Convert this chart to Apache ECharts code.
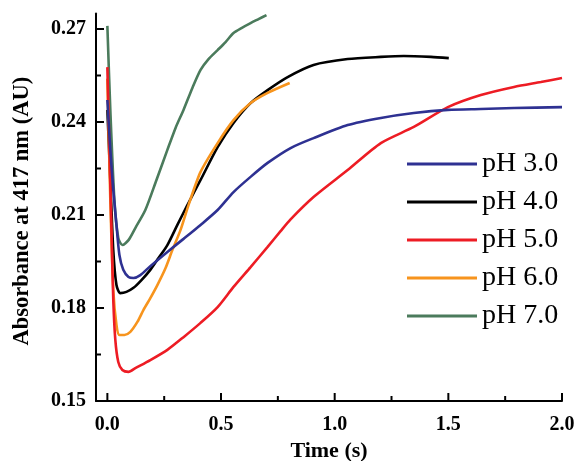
<!DOCTYPE html>
<html>
<head>
<meta charset="utf-8">
<script src="https://cdn.jsdelivr.net/npm/echarts@6/dist/echarts.min.js"></script>
<style>
html,body{margin:0;padding:0;background:#fff;}
#chart{width:576px;height:461px;}
</style>
</head>
<body>
<div id="chart"></div>
<script>
// Legend / series names
const seriesNames = ['pH 3.0', 'pH 4.0', 'pH 5.0', 'pH 6.0', 'pH 7.0'];
const seriesColors = ['#2e3192', '#000000', '#ed1c24', '#f7941d', '#4b7b5c'];

// Axis ranges and tick labels
const xMin = -0.05, xMax = 2.0;
const yMin = 0.15, yMax = 0.275;
const xTicks = [0, 0.5, 1.0, 1.5, 2.0];
const xMinorTicks = [0.25, 0.75, 1.25, 1.75];
const yTicks = [0.15, 0.18, 0.21, 0.24, 0.27];
const yMinorTicks = [0.165, 0.195, 0.225, 0.255];

// pH 3.0 (blue)
const tPH3 = [0, 0.013, 0.026, 0.040, 0.053, 0.070, 0.093, 0.115, 0.145, 0.189, 0.264, 0.335, 0.410, 0.485, 0.555, 0.630, 0.705, 0.806, 0.907, 1.057, 1.203, 1.348, 1.498, 1.643, 1.789, 2.0];
const aPH3 = [0.2471, 0.2310, 0.2181, 0.2068, 0.1971, 0.1923, 0.1900, 0.1897, 0.1906, 0.1935, 0.1981, 0.2023, 0.2068, 0.2116, 0.2174, 0.2223, 0.2268, 0.2316, 0.2348, 0.2390, 0.2413, 0.2429, 0.2439, 0.2442, 0.2445, 0.2448];

// pH 4.0 (black)
const tPH4 = [0, 0.013, 0.026, 0.040, 0.057, 0.084, 0.115, 0.150, 0.189, 0.225, 0.264, 0.308, 0.352, 0.410, 0.485, 0.555, 0.630, 0.705, 0.793, 0.907, 1.057, 1.203, 1.304, 1.423, 1.502];
const aPH4 = [0.2439, 0.2213, 0.1987, 0.1874, 0.1848, 0.1852, 0.1865, 0.1890, 0.1923, 0.1961, 0.2003, 0.2068, 0.2132, 0.2213, 0.2319, 0.2397, 0.2461, 0.2503, 0.2545, 0.2584, 0.2603, 0.2610, 0.2613, 0.2610, 0.2606];

// pH 5.0 (red)
const tPH5 = [0, 0.009, 0.018, 0.026, 0.035, 0.048, 0.066, 0.093, 0.123, 0.189, 0.264, 0.335, 0.410, 0.485, 0.555, 0.630, 0.705, 0.762, 0.806, 0.907, 1.057, 1.203, 1.348, 1.498, 1.643, 1.789, 1.907, 2.0];
const aPH5 = [0.2577, 0.2310, 0.2052, 0.1826, 0.1697, 0.1626, 0.1600, 0.1594, 0.1606, 0.1632, 0.1665, 0.1706, 0.1752, 0.1803, 0.1868, 0.1932, 0.1997, 0.2048, 0.2086, 0.2158, 0.2245, 0.2332, 0.2384, 0.2448, 0.2487, 0.2513, 0.2529, 0.2542];

// pH 6.0 (orange)
const tPH6 = [0, 0.013, 0.026, 0.040, 0.053, 0.075, 0.101, 0.132, 0.159, 0.189, 0.220, 0.256, 0.286, 0.322, 0.357, 0.410, 0.485, 0.555, 0.630, 0.705, 0.802];
const aPH6 = [0.2540, 0.2148, 0.1858, 0.1745, 0.1713, 0.1713, 0.1723, 0.1755, 0.1794, 0.1832, 0.1874, 0.1929, 0.1987, 0.2052, 0.2132, 0.2239, 0.2332, 0.2406, 0.2461, 0.2494, 0.2526];

// pH 7.0 (green)
const tPH7 = [0, 0.013, 0.031, 0.048, 0.066, 0.093, 0.123, 0.167, 0.216, 0.264, 0.300, 0.335, 0.374, 0.410, 0.445, 0.485, 0.520, 0.555, 0.590, 0.630, 0.665, 0.700];
const aPH7 = [0.2710, 0.2439, 0.2148, 0.2026, 0.2003, 0.2019, 0.2058, 0.2116, 0.2213, 0.2310, 0.2381, 0.2439, 0.2510, 0.2568, 0.2603, 0.2632, 0.2658, 0.2687, 0.2703, 0.2719, 0.2732, 0.2745];

const times = [tPH3, tPH4, tPH5, tPH6, tPH7];
const values = [aPH3, aPH4, aPH5, aPH6, aPH7];
// draw order: green bottom, then black, orange, red, blue on top
const drawOrder = [4, 1, 3, 2, 0];

const FONT = '"Liberation Serif", "Times New Roman", serif';

const chart = echarts.init(document.getElementById('chart'));

const lineSeries = drawOrder.map(i => ({
  name: seriesNames[i],
  type: 'line',
  showSymbol: false,
  symbol: 'none',
  smooth: 0.25,
  color: seriesColors[i],
  lineStyle: {color: seriesColors[i], width: 2.6},
  data: times[i].map((t, k) => [t, values[i][k]])
}));

// Inward tick marks, placed through the axes' own scales
function tickSeries(vals, dir, len) {
  return {
    type: 'custom',
    silent: true,
    z: 10,
    clip: false,
    data: vals.map(v => dir === 'x' ? [v, yMin] : [xMin, v]),
    renderItem: function (params, api) {
      const p = api.coord([api.value(0), api.value(1)]);
      const shape = dir === 'x'
        ? {x1: p[0], y1: p[1], x2: p[0], y2: p[1] - len}
        : {x1: p[0], y1: p[1], x2: p[0] + len, y2: p[1]};
      return {type: 'line', shape: shape, style: {stroke: '#000', lineWidth: 2}};
    }
  };
}

const option = {
  animation: false,
  grid: {left: 96, right: 14, top: 13.5, bottom: 60, containLabel: false, outerBoundsMode: 'none'},
  legend: {
    orient: 'vertical',
    left: 402,
    top: 145,
    icon: 'rect',
    itemWidth: 70,
    itemHeight: 3,
    itemGap: 10,
    textStyle: {fontFamily: FONT, fontSize: 28, color: '#000', lineHeight: 28},
    data: seriesNames
  },
  xAxis: {
    type: 'value',
    min: xMin,
    max: xMax,
    name: 'Time (s)',
    nameLocation: 'middle',
    nameGap: 38,
    nameTextStyle: {fontFamily: FONT, fontSize: 22, fontWeight: 'bold', color: '#000', verticalAlign: 'top'},
    axisLine: {onZero: false, lineStyle: {color: '#000', width: 2}},
    axisTick: {show: false},
    axisLabel: {margin: 14, fontFamily: FONT, fontSize: 20, fontWeight: 'bold', color: '#000',
      customValues: xTicks, formatter: v => v.toFixed(1)},
    splitLine: {show: false}
  },
  yAxis: {
    type: 'value',
    min: yMin,
    max: yMax,
    name: 'Absorbance at 417 nm (AU)',
    nameLocation: 'middle',
    nameGap: 62,
    nameRotate: 90,
    nameTextStyle: {fontFamily: FONT, fontSize: 22.5, fontWeight: 'bold', color: '#000', padding: [0, 8, 0, 0]},
    axisLine: {show: true, onZero: false, lineStyle: {color: '#000', width: 2}},
    axisTick: {show: false},
    axisLabel: {margin: 10, fontFamily: FONT, fontSize: 20, fontWeight: 'bold', color: '#000',
      customValues: yTicks, formatter: v => v.toFixed(2)},
    splitLine: {show: false}
  },
  series: lineSeries.concat([
    tickSeries(xTicks, 'x', 8),
    tickSeries(xMinorTicks, 'x', 5),
    tickSeries(yTicks.slice(1), 'y', 8),
    tickSeries(yMinorTicks, 'y', 5)
  ])
};

chart.setOption(option);
</script>
</body>
</html>
